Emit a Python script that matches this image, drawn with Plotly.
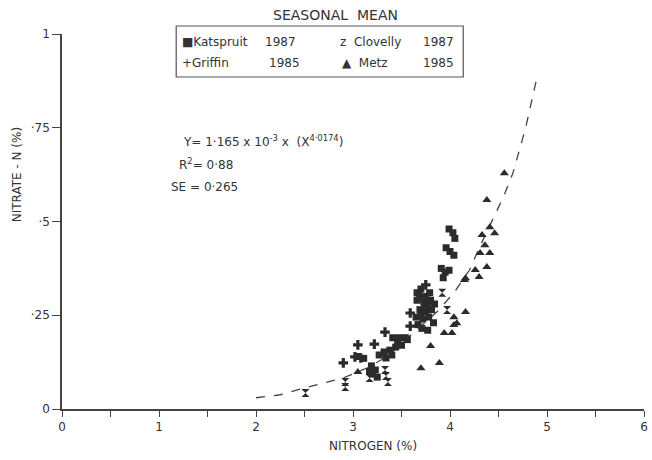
import plotly.graph_objects as go

# ---- data ----
katspruit_x = [3.66, 3.70, 3.75, 3.79, 3.66, 3.73, 3.80, 3.84, 3.69, 3.75, 3.81, 3.65, 3.72, 3.78, 3.83, 3.71, 3.77, 3.67, 3.74, 3.70,
               3.99, 4.03, 4.05, 3.96, 4.00, 4.04, 3.91, 3.95, 3.99, 3.93,
               3.41, 3.46, 3.50, 3.44, 3.38, 3.32, 3.27, 3.34, 3.40, 3.48, 3.54, 3.56,
               3.19, 3.23, 3.20, 3.25, 3.17, 3.05, 3.11]
katspruit_y = [0.31, 0.32, 0.30, 0.31, 0.29, 0.285, 0.29, 0.28, 0.265, 0.26, 0.265, 0.245, 0.24, 0.245, 0.23, 0.215, 0.21, 0.225, 0.275, 0.25,
               0.48, 0.47, 0.455, 0.43, 0.42, 0.41, 0.375, 0.365, 0.37, 0.35,
               0.19, 0.18, 0.17, 0.165, 0.157, 0.152, 0.144, 0.136, 0.144, 0.19, 0.19, 0.185,
               0.115, 0.104, 0.093, 0.085, 0.10, 0.14, 0.135]

griffin_x = [2.90, 3.02, 3.08, 3.05, 3.22, 3.33, 3.59, 3.59, 3.75, 3.70, 3.78]
griffin_y = [0.123, 0.139, 0.136, 0.171, 0.173, 0.205, 0.221, 0.256, 0.331, 0.30, 0.28]

clovelly_x = [2.51, 2.92, 2.92, 3.17, 3.33, 3.36, 3.34, 3.92, 3.97]
clovelly_y = [0.043, 0.072, 0.059, 0.083, 0.104, 0.072, 0.088, 0.31, 0.264]

metz_x = [3.70, 3.89, 3.80, 3.94, 4.02, 4.07, 4.16, 4.04, 4.04, 4.15, 4.26, 4.38, 4.41, 4.46, 4.33, 4.36, 4.31, 4.41, 4.38, 4.30, 4.16, 4.56, 3.05]
metz_y = [0.109, 0.123, 0.168, 0.203, 0.203, 0.229, 0.259, 0.245, 0.224, 0.344, 0.371, 0.557, 0.485, 0.469, 0.464, 0.437, 0.416, 0.416, 0.379, 0.352, 0.349, 0.629, 0.099]

curve_x = [2.0, 2.25, 2.5, 2.9, 3.15, 3.35, 3.65, 3.87, 4.04, 4.2, 4.32, 4.45, 4.55, 4.65, 4.78, 4.89]
curve_y = [0.03, 0.038, 0.056, 0.083, 0.11, 0.14, 0.21, 0.26, 0.31, 0.37, 0.44, 0.51, 0.565, 0.63, 0.75, 0.877]

x_ticks = [0, 1, 2, 3, 4, 5, 6]
x_ticktext = ["0", "1", "2", "3", "4", "5", "6"]
y_ticks = [0, 0.25, 0.5, 0.75, 1]
y_ticktext = ["0", "·25", "·5", "·75", "1"]

INK = "#2b2b2b"
FONT = "DejaVu Sans"

fig = go.Figure()
fig.add_trace(go.Scatter(x=curve_x, y=curve_y, mode="lines",
                         line=dict(color="#444", width=1.3, dash="dash"), hoverinfo="skip"))
fig.add_trace(go.Scatter(x=katspruit_x, y=katspruit_y, mode="markers", name="Katspruit 1987",
                         marker=dict(symbol="square", size=7, color=INK)))
fig.add_trace(go.Scatter(x=griffin_x, y=griffin_y, mode="markers", name="Griffin 1985",
                         marker=dict(symbol="cross", size=8, color=INK)))
fig.add_trace(go.Scatter(x=clovelly_x, y=clovelly_y, mode="markers", name="Clovelly 1987",
                         marker=dict(symbol="hourglass", size=8, color=INK)))
fig.add_trace(go.Scatter(x=metz_x, y=metz_y, mode="markers", name="Metz 1985",
                         marker=dict(symbol="triangle-up", size=8, color=INK)))

L, R, T, B = 62, 4, 34, 51
W, H = 652, 460
pw, ph = W - L - R, H - T - B

def px(xp):
    return (xp - L) / pw

def py(yp):
    return (H - B - yp) / ph

fig.update_layout(
    width=W, height=H,
    margin=dict(l=L, r=R, t=T, b=B),
    paper_bgcolor="white", plot_bgcolor="white",
    showlegend=False,
    font=dict(family=FONT, color="#333", size=12),
    xaxis=dict(range=[0, 6], tickvals=x_ticks, ticktext=x_ticktext, showgrid=False, zeroline=False,
               showline=True, linecolor="#444", linewidth=1.5, ticks="outside", ticklen=6,
               tickcolor="#444", tickwidth=1.2,
               minor=dict(dtick=0.5, tick0=0, ticks="outside", ticklen=6, tickcolor="#444", tickwidth=1.2),
               tickfont=dict(family=FONT, size=12, color="#333")),
    yaxis=dict(range=[0, 1], tickvals=y_ticks, ticktext=y_ticktext, showgrid=False, zeroline=False,
               showline=True, linecolor="#444", linewidth=1.5, ticks="outside", ticklen=8,
               tickcolor="#444", tickwidth=1.2, tickfont=dict(family=FONT, size=12, color="#333")),
)

ann = []
def text(x, y, s, size=12, xanchor="left", angle=0):
    ann.append(dict(xref="paper", yref="paper", x=px(x), y=py(y), text=s, showarrow=False,
                    xanchor=xanchor, yanchor="middle", textangle=angle,
                    font=dict(family=FONT, size=size, color="#333")))

text(337, 15, "SEASONAL  MEAN", size=14, xanchor="center")
text(181, 42, "■Katspruit")
text(264, 42, "1987")
text(340, 42, "z  Clovelly")
text(423, 42, "1987")
text(181, 63, "+Griffin")
text(268, 63, "1985")
text(342, 63, "▲  Metz")
text(423, 63, "1985")
text(182, 141, "Y= 1·165 x 10<sup>-3</sup> x  (X<sup>4·0174</sup>)", size=12)
text(178, 164, "R<sup>2</sup>= 0·88", size=12)
text(170, 187, "SE = 0·265", size=12)
text(375, 446, "NITROGEN (%)", size=12, xanchor="center")
text(17, 175, "NITRATE - N (%)", size=12, xanchor="center", angle=-90)
fig.update_layout(annotations=ann)

fig.add_shape(type="rect", xref="paper", yref="paper", x0=px(177), x1=px(466), y0=py(26), y1=py(77),
              line=dict(color="#555", width=1.2))

fig.write_html("out.html")
